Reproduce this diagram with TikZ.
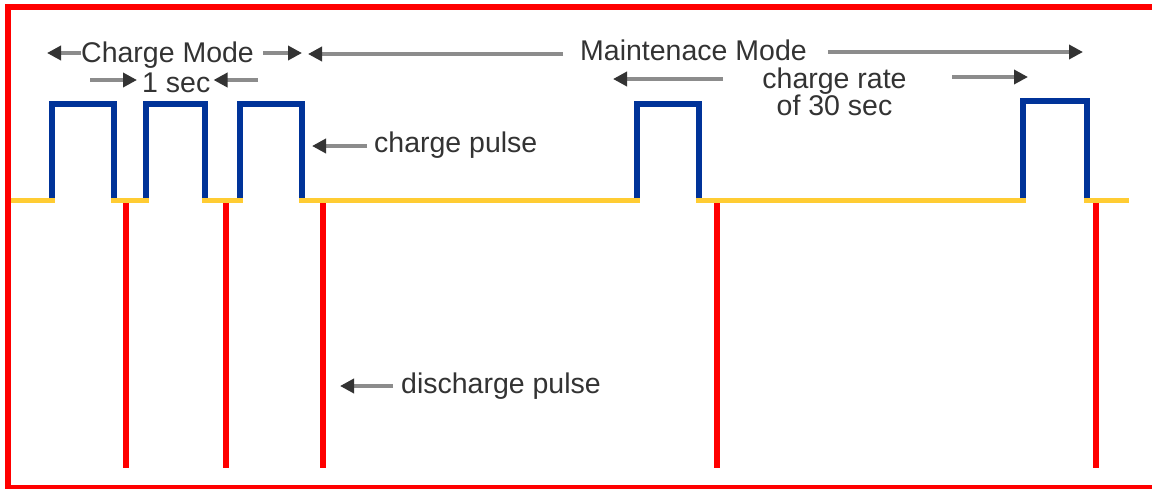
\documentclass[tikz,border=0pt]{standalone}
\usepackage{fontspec}
\setmainfont{Liberation Sans}
\usetikzlibrary{arrows.meta}
\definecolor{pulseBlue}{RGB}{0, 51, 153}
\definecolor{lineYellow}{RGB}{255, 204, 51}
\definecolor{frameRed}{RGB}{255, 0, 0}
\definecolor{txtGray}{RGB}{51, 51, 51}

\begin{document}
\begin{tikzpicture}[x=1pt, y=-1pt,
    lbl/.style={inner sep=0pt, text=txtGray, font=\fontsize{28.5}{27}\selectfont},
    ptr/.style={black!45, line width=3.5pt,
      -{Triangle[length=14pt, width=14pt, color=black!80]}}]
  \useasboundingbox (0,0) rectangle (1152,488);

  % baseline between pulses
  \foreach \a/\b in {8/55, 111/149, 202/243, 299/640, 696/1026, 1084/1129}
    \draw[lineYellow, line width=5pt] (\a,200.5) -- (\b,200.5);

  % charge pulses
  \foreach \l/\r/\t in {52/114/104, 146/205/104, 240/302/104, 637/699/104, 1023/1087/101}
    \draw[pulseBlue, line width=6pt] (\l,198) -- (\l,\t) -- (\r,\t) -- (\r,198);

  % discharge pulses
  \foreach \x in {126, 226, 323, 717, 1096}
    \draw[frameRed, line width=6pt] (\x,203) -- (\x,468);

  % frame, open on the right
  \draw[frameRed, line width=6pt] (1152,7) -- (8,7) -- (8,487.5) -- (1152,487.5);

  % labels
  \node[lbl, anchor=base west] (chgmode) at (81,62) {Charge Mode};
  \node[lbl, anchor=base west] (onesec) at (142,92) {1 sec};
  \node[lbl, anchor=base west] (maintmode) at (580,60) {Maintenace Mode};
  \node[lbl, anchor=base] (rate) at (834.5,88) {charge rate};
  \node[lbl, anchor=base] (rateb) at (834.5,115) {of 30 sec};
  \node[lbl, anchor=base west] (chgpulse) at (374,152) {charge pulse};
  \node[lbl, anchor=base west] (dispulse) at (401,393) {discharge pulse};

  % arrow ends
  \coordinate (cmL) at (47,53);
  \coordinate (cmR) at (302,53);
  \coordinate (mmL) at (308,54);
  \coordinate (mmR) at (1083,52);
  \coordinate (secA) at (90,80);
  \coordinate (secB) at (258,80);
  \coordinate (rateL) at (613,79);
  \coordinate (rateLt) at (723,79);
  \coordinate (rateRt) at (952,77);
  \coordinate (rateR) at (1028,77);
  \coordinate (cpTip) at (312,146);
  \coordinate (dpTip) at (340,386);

  % arrows
  \draw[ptr] (chgmode.west |- cmL) -- (cmL);
  \draw[ptr] ([xshift=9pt]chgmode.east |- cmR) -- (cmR);
  \draw[ptr] ([xshift=-17pt]maintmode.west |- mmL) -- (mmL);
  \draw[ptr] ([xshift=21pt]maintmode.east |- mmR) -- (mmR);
  \draw[ptr] (secA) -- ([xshift=-5pt]onesec.west |- secA);
  \draw[ptr] (secB) -- ([xshift=3pt]onesec.east |- secB);
  \draw[ptr] (rateLt) -- (rateL);
  \draw[ptr] (rateRt) -- (rateR);
  \draw[ptr] ([xshift=-7pt]chgpulse.west |- cpTip) -- (cpTip);
  \draw[ptr] ([xshift=-8pt]dispulse.west |- dpTip) -- (dpTip);
\end{tikzpicture}
\end{document}
